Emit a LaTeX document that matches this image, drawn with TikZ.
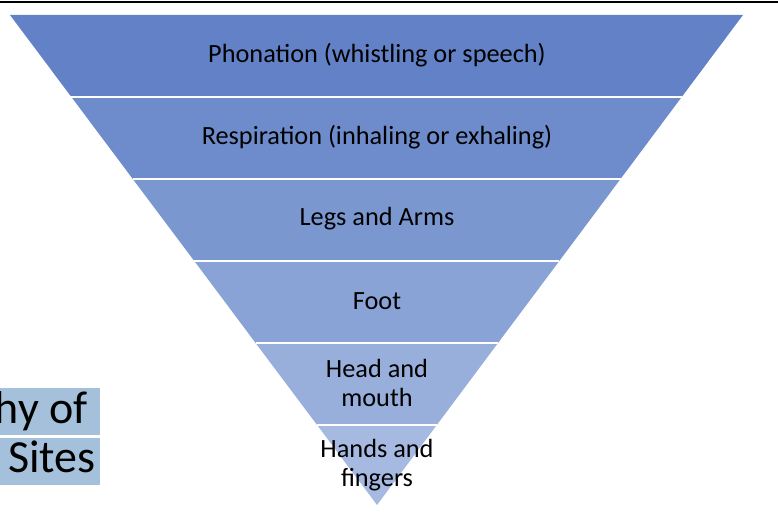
\documentclass[tikz,border=0pt]{standalone}
\usepackage{fontspec}
\setmainfont{Carlito}
\definecolor{bA}{RGB}{98,129,198}
\definecolor{bB}{RGB}{110,140,203}
\definecolor{bC}{RGB}{123,151,208}
\definecolor{bD}{RGB}{137,163,214}
\definecolor{bE}{RGB}{152,174,219}
\definecolor{bF}{RGB}{166,186,225}
\definecolor{sidebox}{RGB}{164,192,218}
\begin{document}
\begin{tikzpicture}[x=1pt,y=-1pt,
  lbl/.style={font=\fontsize{26.3}{28.5}\selectfont, align=center, text=black, inner sep=0pt},
  sep/.style={draw=white, line width=1.6pt},
  side/.style={fill=sidebox, draw=none},
  sidetxt/.style={font=\fontsize{46}{50}\selectfont, anchor=base east, inner sep=0pt, text=black}]
\useasboundingbox (0,0) rectangle (778,518);
\draw[black, line width=2pt] (0,2) -- (778,2);
% bands
\fill[bA] (10,15) -- (743,15) -- (681.7,97) -- (71.4,97) -- cycle;
\fill[bB] (71.4,97) -- (681.7,97) -- (620.5,179) -- (132.8,179) -- cycle;
\fill[bC] (132.8,179) -- (620.5,179) -- (559.3,261) -- (194.3,261) -- cycle;
\fill[bD] (194.3,261) -- (559.3,261) -- (498.0,343) -- (255.6,343) -- cycle;
\fill[bE] (255.6,343) -- (498.0,343) -- (436.8,425) -- (317.1,425) -- cycle;
\fill[bF] (317.1,425) -- (436.8,425) -- (377,505) -- cycle;
\draw[sep] (71.4,97) -- (681.7,97);
\draw[sep] (132.8,179) -- (620.5,179);
\draw[sep] (194.3,261) -- (559.3,261);
\draw[sep] (255.6,343) -- (498.0,343);
\draw[sep] (317.1,425) -- (436.8,425);
% labels
\node[lbl] (l1) at (377,55) {Phonation (whistling or speech)};
\node[lbl] (l2) at (377,137) {Respiration (inhaling or exhaling)};
\node[lbl] (l3) at (377,219) {Legs and Arms};
\node[lbl] (l4) at (377,301) {Foot};
\node[lbl] (l5) at (377,383) {Head and\\mouth};
\node[lbl] (l6) at (377,465) {Hands and\\fingers};
% side boxes
\fill[side] (0,388) rectangle (100,435);
\fill[side] (0,438) rectangle (100,485);
\node[sidetxt] (s1) at (88,423) {hy of};
\node[sidetxt] (s2) at (96,472) {Sites};
\end{tikzpicture}
\end{document}
